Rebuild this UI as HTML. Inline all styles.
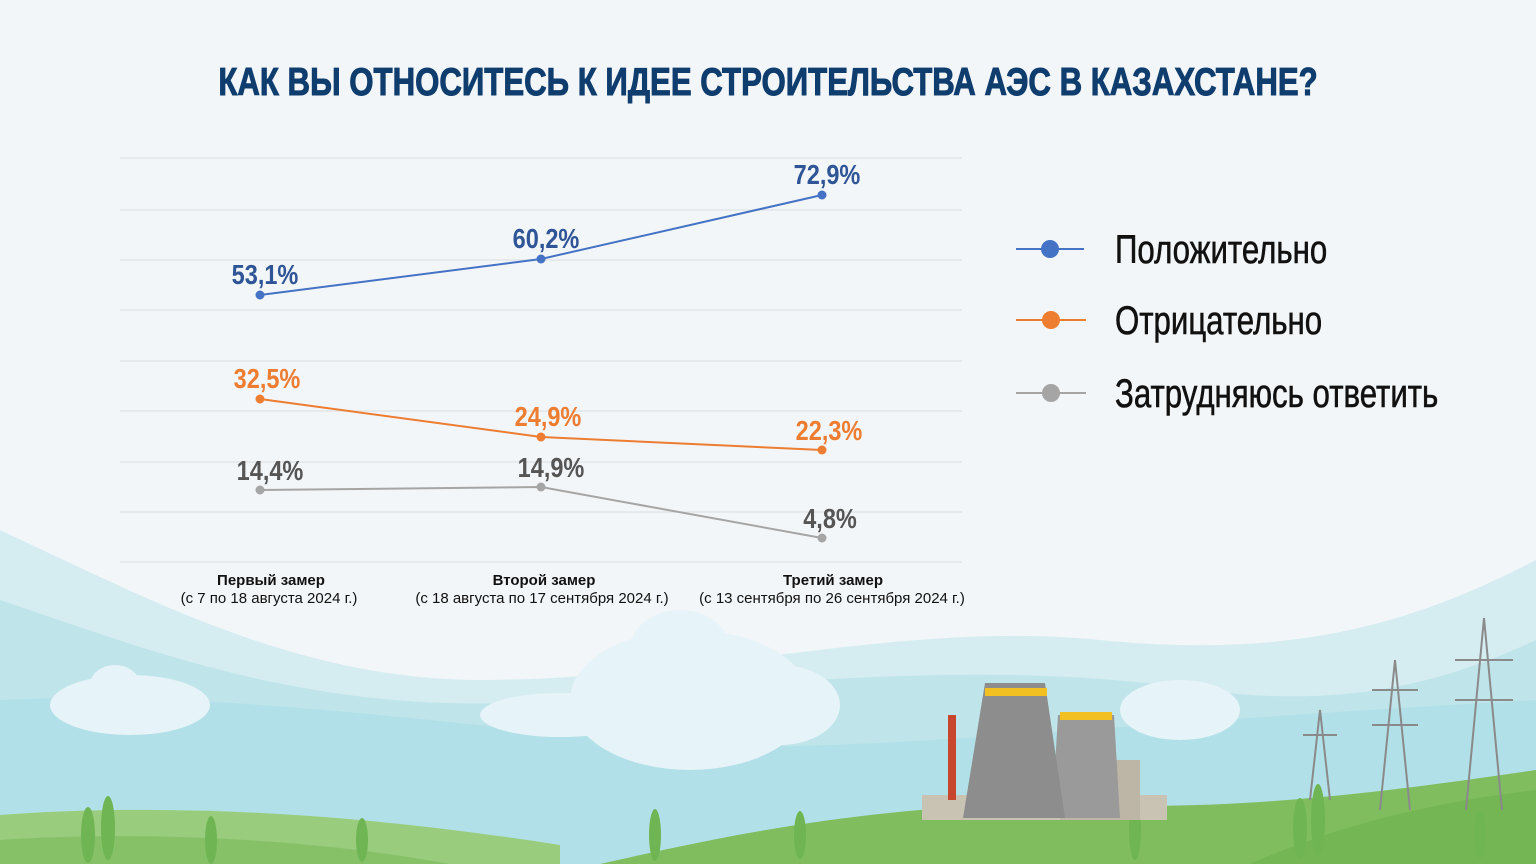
<!DOCTYPE html>
<html><head><meta charset="utf-8"><style>
html,body{margin:0;padding:0;width:1536px;height:864px;overflow:hidden;background:#f2f6f9;}
svg{display:block}
.t{font-family:"Liberation Sans",sans-serif;font-weight:bold;}
</style></head><body>
<svg width="1536" height="864" viewBox="0 0 1536 864" xmlns="http://www.w3.org/2000/svg">
<rect width="1536" height="864" fill="#f2f6f9"/>
<path d="M0,530 C150,600 300,680 480,680 C700,680 900,620 1100,640 C1300,660 1420,620 1536,560 L1536,864 L0,864Z" fill="#d5edf1"/>
<path d="M0,600 C150,650 320,720 560,700 C800,680 1000,660 1200,690 C1350,710 1450,680 1536,640 L1536,864 L0,864Z" fill="#bfe4ea"/>
<path d="M0,700 C200,690 420,720 620,740 C820,760 1000,730 1536,700 L1536,864 L0,864Z" fill="#b2e0e8"/>
<g fill="#e6f3f8">
<ellipse cx="690" cy="700" rx="120" ry="70"/><ellipse cx="680" cy="650" rx="50" ry="40"/><ellipse cx="780" cy="705" rx="60" ry="40"/><ellipse cx="560" cy="715" rx="80" ry="22"/>
<ellipse cx="130" cy="705" rx="80" ry="30"/><ellipse cx="115" cy="685" rx="25" ry="20"/>
<ellipse cx="1180" cy="710" rx="60" ry="30"/>
</g>
<path d="M0,815 C200,800 400,820 560,845 L560,864 L0,864Z" fill="#99cc7c"/>
<path d="M0,840 C150,830 320,840 450,864 L0,864Z" fill="#86c168"/>
<path d="M600,864 C750,830 900,800 1100,805 C1250,810 1400,790 1536,770 L1536,864Z" fill="#7fbd5e"/>
<path d="M1250,864 C1350,820 1450,800 1536,790 L1536,864Z" fill="#73b653"/>
<g fill="#6fb553">
<ellipse cx="88" cy="835" rx="7" ry="28"/><ellipse cx="108" cy="828" rx="7" ry="32"/><ellipse cx="211" cy="840" rx="6" ry="24"/><ellipse cx="362" cy="840" rx="6" ry="22"/>
<ellipse cx="655" cy="835" rx="6" ry="26"/><ellipse cx="800" cy="835" rx="6" ry="24"/><ellipse cx="1135" cy="830" rx="6" ry="30"/><ellipse cx="1300" cy="828" rx="7" ry="30"/><ellipse cx="1318" cy="820" rx="7" ry="36"/><ellipse cx="1480" cy="835" rx="6" ry="24"/>
</g>
<rect x="922" y="795" width="245" height="25" fill="#c9c3b4"/>
<rect x="1060" y="760" width="80" height="60" fill="#bdb6a6"/>
<rect x="948" y="715" width="8" height="85" fill="#c8462d"/>
<path d="M1058,715 L1114,715 L1120,818 L1052,818Z" fill="#9a9a9a"/>
<rect x="1060" y="712" width="52" height="8" fill="#f2c020"/>
<path d="M985,683 L1045,683 L1065,818 L963,818Z" fill="#8d8d8d"/>
<rect x="985" y="688" width="62" height="8" fill="#f2c020"/>
<g stroke="#8a8a8a" stroke-width="2" fill="none">
<path d="M1484,618 L1466,810 M1484,618 L1502,810 M1455,660 L1513,660 M1455,700 L1513,700"/>
<path d="M1395,660 L1380,810 M1395,660 L1410,810 M1372,690 L1418,690 M1372,725 L1418,725"/>
<path d="M1320,710 L1310,800 M1320,710 L1330,800 M1303,735 L1337,735"/>
</g>
<text x="768" y="95" text-anchor="middle" class="t" font-size="39" fill="#0f3d6e" stroke="#0f3d6e" stroke-width="1" transform="translate(768,0) scale(0.80,1) translate(-768,0)">КАК ВЫ ОТНОСИТЕСЬ К ИДЕЕ СТРОИТЕЛЬСТВА АЭС В КАЗАХСТАНЕ?</text>
<g stroke="#e1e5e8" stroke-width="1.5">
<line x1="120" x2="962" y1="158" y2="158"/><line x1="120" x2="962" y1="210" y2="210"/><line x1="120" x2="962" y1="260" y2="260"/><line x1="120" x2="962" y1="310" y2="310"/><line x1="120" x2="962" y1="361" y2="361"/><line x1="120" x2="962" y1="411" y2="411"/><line x1="120" x2="962" y1="462" y2="462"/><line x1="120" x2="962" y1="512" y2="512"/><line x1="120" x2="962" y1="562" y2="562"/>
</g>
<polyline points="260,295 541,259 822,195" fill="none" stroke="#4472c4" stroke-width="2"/>
<polyline points="260,399 541,437 822,450" fill="none" stroke="#ed7d31" stroke-width="2"/>
<polyline points="260,490 541,487 822,538" fill="none" stroke="#a5a5a5" stroke-width="2"/>
<g fill="#4472c4"><circle cx="260" cy="295" r="4.5"/><circle cx="541" cy="259" r="4.5"/><circle cx="822" cy="195" r="4.5"/></g>
<g fill="#ed7d31"><circle cx="260" cy="399" r="4.5"/><circle cx="541" cy="437" r="4.5"/><circle cx="822" cy="450" r="4.5"/></g>
<g fill="#a5a5a5"><circle cx="260" cy="490" r="4.5"/><circle cx="541" cy="487" r="4.5"/><circle cx="822" cy="538" r="4.5"/></g>
<g class="t" font-size="28" text-anchor="middle">
<g fill="#2f5597">
<text transform="translate(265,284) scale(0.84,1)">53,1%</text>
<text transform="translate(546,248) scale(0.84,1)">60,2%</text>
<text transform="translate(827,184) scale(0.84,1)">72,9%</text></g>
<g fill="#ed7d31">
<text transform="translate(267,388) scale(0.84,1)">32,5%</text>
<text transform="translate(548,426) scale(0.84,1)">24,9%</text>
<text transform="translate(829,440) scale(0.84,1)">22,3%</text></g>
<g fill="#555">
<text transform="translate(270,480) scale(0.84,1)">14,4%</text>
<text transform="translate(551,477) scale(0.84,1)">14,9%</text>
<text transform="translate(830,528) scale(0.84,1)">4,8%</text></g>
</g>
<g font-family="Liberation Sans,sans-serif" font-size="15" text-anchor="middle" fill="#111">
<text x="271" y="585" font-weight="bold">Первый замер</text>
<text x="269" y="603">(с 7 по 18 августа 2024 г.)</text>
<text x="544" y="585" font-weight="bold">Второй замер</text>
<text x="542" y="603">(с 18 августа по 17 сентября 2024 г.)</text>
<text x="833" y="585" font-weight="bold">Третий замер</text>
<text x="832" y="603">(с 13 сентября по 26 сентября 2024 г.)</text>
</g>
<line x1="1016" x2="1084" y1="249" y2="249" stroke="#4472c4" stroke-width="2"/><circle cx="1050" cy="249" r="9" fill="#4472c4"/>
<line x1="1016" x2="1086" y1="320" y2="320" stroke="#ed7d31" stroke-width="2"/><circle cx="1051" cy="320" r="9" fill="#ed7d31"/>
<line x1="1016" x2="1086" y1="393" y2="393" stroke="#a5a5a5" stroke-width="2"/><circle cx="1051" cy="393" r="9" fill="#a5a5a5"/>
<g font-family="Liberation Sans,sans-serif" font-size="40" fill="#111" stroke="#111" stroke-width="0.6">
<text transform="translate(1115,263) scale(0.78,1)">Положительно</text>
<text transform="translate(1115,334) scale(0.78,1)">Отрицательно</text>
<text transform="translate(1115,407) scale(0.78,1)">Затрудняюсь ответить</text>
</g>
</svg>
</body></html>
